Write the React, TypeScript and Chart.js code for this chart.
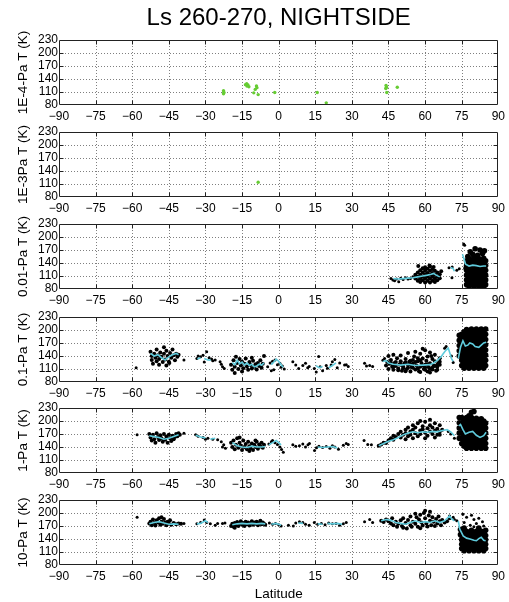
import React, { useEffect, useRef } from "react";
import { Chart, registerables } from "chart.js";

Chart.register(...registerables);

type P = [number, number];

const latTicks = [-90, -75, -60, -45, -30, -15, 0, 15, 30, 45, 60, 75, 90];
const tempTicks = [80, 110, 140, 170, 200, 230];
const panelLabels = ["1E-4-Pa T (K)", "1E-3Pa T (K)", "0.01-Pa T (K)", "0.1-Pa T (K)", "1-Pa T (K)", "10-Pa T (K)"];
const chartTitle = "Ls 260-270, NIGHTSIDE";
const xAxisTitle = "Latitude";

// ---- 1E-4 Pa (green) ----
const green1E4: P[] = [
  [-22.6, 113], [-22.4, 109], [-22.6, 106], [-13.6, 127], [-13.1, 129], [-12.6, 126], [-12.2, 122],
  [-13, 124], [-9.1, 124], [-8.9, 120], [-9.6, 116], [-10.2, 108], [-8.4, 104], [-1.6, 109],
  [15.8, 109], [19.5, 85], [44, 125], [44.2, 121], [43.9, 118], [44.3, 109], [48.6, 121],
];

// ---- 1E-3 Pa (green) ----
const green1E3: P[] = [[-8.4, 114]];

// ---- 0.01 Pa ----
const dots001: P[] = [
  [46, 104], [46.8, 101], [47.5, 99], [48.3, 103], [49.2, 97], [50, 105], [51, 102], [52, 106],
  [53, 103], [54, 104], [55, 108], [56, 110], [69.8, 129], [71.1, 131], [71, 106], [73, 123],
  [74, 127], [75.8, 184], [76.2, 181],
];
const dense001: P[] = [
  [56, 104], [56, 113], [57, 99], [57, 108], [57, 118], [58, 96], [58, 104], [58, 113], [58, 123],
  [59, 100], [59, 109], [59, 118], [59, 128], [60, 95], [60, 104], [60, 113], [60, 122], [61, 99],
  [61, 108], [61, 117], [61, 127], [62, 95], [62, 104], [62, 113], [62, 122], [62, 132], [63, 99],
  [63, 108], [63, 117], [63, 126], [64, 96], [64, 104], [64, 113], [64, 122], [65, 100], [65, 109],
  [65, 118], [66, 105], [66, 114], [57.2, 133], [61.8, 134], [60, 130], [63.5, 131], [66.6, 121],
];
const block001: P[] = [
  [77, 90], [77, 101], [77, 112], [77, 123], [77, 134], [77, 145],
  [78, 86], [78, 96], [78, 107], [78, 118], [78, 129], [78, 140], [78, 150],
  [79, 91], [79, 102], [79, 113], [79, 124], [79, 135], [79, 146],
  [80, 85], [80, 97], [80, 108], [80, 119], [80, 130], [80, 141], [80, 152],
  [81, 90], [81, 101], [81, 112], [81, 123], [81, 134], [81, 145],
  [82, 86], [82, 96], [82, 107], [82, 118], [82, 129], [82, 140], [82, 150],
  [83, 91], [83, 102], [83, 113], [83, 124], [83, 135], [83, 146],
  [84, 85], [84, 97], [84, 108], [84, 119], [84, 130], [84, 141], [84, 151],
  [84.8, 90], [84.8, 101], [84.8, 112], [84.8, 123], [84.8, 134], [84.8, 145],
  [77.5, 155], [79.5, 160], [81.5, 158], [83.5, 162], [78.5, 166], [82.5, 170], [80.5, 173], [84.3, 168], [76.8, 128],
];
const mean001: P[][] = [
  [[47, 104], [49, 103], [51, 104], [53, 105], [55, 106], [57, 108], [59, 110], [61, 112], [62.5, 114], [63.5, 116], [64.5, 112], [66, 108]],
  [[70.5, 130], [71.5, 127], [72, 121]],
  [[75.3, 160], [75.8, 152], [76.6, 137], [78, 133], [79.5, 135], [81, 134], [82.5, 132], [84, 133], [85, 133]],
];

// ---- 0.1 Pa ----
const dots01: P[] = [
  [-58.4, 113], [-38.8, 131], [-33.5, 134], [-33, 140], [-32, 138], [-31, 142], [-30.5, 126], [-29.5, 150],
  [-28.5, 136], [-27.5, 133], [-27, 129], [-26, 131], [-24, 127], [-23.5, 121], [-23, 115], [-22.3, 111],
  [-4.5, 115], [-3.5, 124], [-2.5, 128], [-2, 108], [-1.5, 131], [-0.5, 120], [0.5, 123], [1, 114],
  [1.5, 117], [2.3, 110], [-3, 106], [5.8, 127], [7, 119], [8.2, 111], [9.9, 118], [11, 123], [11.9, 113],
  [12.5, 116], [14.6, 111], [15.4, 103], [16.4, 139], [17, 115], [18, 106], [19.5, 118], [20, 112],
  [21.5, 119], [22, 127], [23, 132], [24, 113], [25, 124], [27, 119], [27.7, 120], [28.5, 116],
  [35.2, 123], [36, 117], [37.3, 118], [38.5, 116], [42.7, 130], [43.4, 134], [68, 158], [68.6, 162],
  [70.8, 140], [71.5, 125],
];
const dense01: P[] = [
  [-52.5, 150], [-52, 140], [-52, 131], [-51.5, 122], [-51, 145], [-50.5, 136], [-50, 128], [-50, 155],
  [-49.5, 142], [-49, 133], [-49, 120], [-48.5, 148], [-48, 138], [-47.5, 126], [-47, 145], [-46.5, 132],
  [-46, 118], [-46, 152], [-45.5, 140], [-45, 127], [-44.5, 147], [-44, 136], [-43.5, 155], [-43, 142],
  [-42.5, 130], [-42, 145], [-41.5, 138], [-41, 143], [-47, 160], [-44.8, 124],
  [-19.5, 120], [-19, 108], [-18.5, 130], [-18, 115], [-17.5, 138], [-17, 124], [-16.5, 110], [-16, 133],
  [-15.5, 118], [-15, 127], [-14.5, 112], [-14, 122], [-13.5, 134], [-13, 116], [-12.5, 108], [-12, 126],
  [-11.5, 119], [-11, 111], [-10.5, 129], [-10, 115], [-9.5, 121], [-9, 109], [-8.5, 124], [-8, 117],
  [-7.5, 130], [-7, 113], [-6.5, 122], [-6, 140], [-15, 104], [-11, 136], [-18, 101],
  [44, 118], [44.5, 126], [45, 110], [45.5, 122], [46, 131], [46.5, 115], [47, 108], [47.5, 124],
  [48, 117], [48.5, 135], [49, 111], [49.5, 121], [50, 128], [50.5, 106], [51, 116], [51.5, 123],
  [52, 133], [52.5, 110], [53, 119], [53.5, 127], [54, 104], [54.5, 114], [55, 122], [55.5, 139],
  [56, 109], [56.5, 118], [57, 128], [57.5, 105], [58, 115], [58.5, 124], [59, 134], [59.5, 110],
  [60, 120], [60.5, 129], [61, 104], [61.5, 114], [62, 123], [62.5, 140], [63, 109], [63.5, 118],
  [64, 128], [64.5, 106], [65, 115], [65.5, 124], [66, 135], [50, 141], [53, 147], [56, 150],
  [58, 145], [60, 153], [62, 148], [64, 143], [59, 157], [61, 139], [57, 135], [55, 131], [52, 105],
  [58, 103], [62, 102], [65, 108], [45, 140], [47, 143], [66, 120], [63, 133], [54, 129], [49, 107], [60, 108],
  [51, 112], [53, 113], [55, 113], [57, 112], [59, 118], [61, 121], [63, 113], [65, 120], [48, 126], [50, 120],
  [52, 125], [54, 121], [56, 126], [58, 130], [60, 114], [62, 110], [64, 117], [66, 127], [46, 124], [47, 116],
];
const block01: P[] = [
  [74, 140], [74, 152], [74, 164], [74, 176], [74, 188],
  [75, 118], [75, 130], [75, 142], [75, 154], [75, 166], [75, 178], [75, 190],
  [76, 112], [76, 124], [76, 136], [76, 148], [76, 160], [76, 172], [76, 184], [76, 196],
  [77, 118], [77, 130], [77, 142], [77, 154], [77, 166], [77, 178], [77, 190], [77, 201],
  [78, 112], [78, 124], [78, 136], [78, 148], [78, 160], [78, 172], [78, 184], [78, 196],
  [79, 118], [79, 130], [79, 142], [79, 154], [79, 166], [79, 178], [79, 190], [79, 202],
  [80, 112], [80, 124], [80, 136], [80, 148], [80, 160], [80, 172], [80, 184], [80, 196],
  [81, 118], [81, 130], [81, 142], [81, 154], [81, 166], [81, 178], [81, 190], [81, 202],
  [82, 112], [82, 124], [82, 136], [82, 148], [82, 160], [82, 172], [82, 184], [82, 196],
  [83, 118], [83, 130], [83, 142], [83, 154], [83, 166], [83, 178], [83, 190], [83, 202],
  [84, 112], [84, 124], [84, 136], [84, 148], [84, 160], [84, 172], [84, 184], [84, 196],
  [84.8, 118], [84.8, 130], [84.8, 142], [84.8, 154], [84.8, 166], [84.8, 178], [84.8, 190], [84.8, 202],
];
const mean01: P[][] = [
  [[-52.5, 146], [-51, 140], [-49.5, 143], [-48, 136], [-46.5, 131], [-45, 138], [-43.5, 143], [-42, 146], [-41, 143]],
  [[-33.3, 133], [-32, 136]],
  [[-30.5, 134], [-29, 131], [-27.8, 130]],
  [[-19, 125], [-18, 120], [-17, 130], [-16, 122], [-15, 126], [-14, 119], [-13, 124], [-12, 118], [-11, 121], [-10, 115], [-9, 117], [-8, 121], [-7, 119], [-6, 124]],
  [[-3, 120], [-2, 126], [-1, 133], [0, 128], [1, 120], [1.8, 114]],
  [[15.3, 118], [16.5, 113], [18, 116]],
  [[20.5, 113], [22, 118], [23.5, 124]],
  [[42.7, 127], [44, 130], [45, 124], [47, 121], [50, 119], [53, 121], [56, 118], [59, 119], [62, 120], [63.5, 124], [65, 130], [66.5, 138], [67.4, 145], [68.5, 153], [69.5, 158], [70.2, 146], [70.8, 134], [71.5, 128]],
  [[73.6, 134], [74.5, 160], [75.5, 175], [76.5, 163], [77.5, 165], [78.3, 170], [79.5, 168], [80.5, 162], [82, 160], [83, 165], [84, 170], [85, 172]],
];

// ---- 1 Pa ----
const dots1: P[] = [
  [-58, 168], [-38.8, 172], [-34, 168], [-33, 165], [-31, 162], [-30, 158], [-29, 160], [-27, 158],
  [-25, 157], [-23.5, 152], [-22.5, 145], [-21.8, 137], [-23, 140],
  [-4, 147], [-3, 152], [-2.5, 155], [-1.5, 150], [-0.5, 146], [0.5, 140], [1.2, 134], [1.9, 128],
  [5.8, 145], [7, 142], [8.5, 143], [9.9, 147], [11, 140], [12, 145], [12.6, 148], [14.7, 132],
  [15.5, 138], [16.5, 142], [18, 139], [19.5, 141], [21, 137], [22, 143], [23, 140], [24.5, 135],
  [26.5, 144], [27.7, 148], [28.5, 146], [35, 155], [36.5, 146], [38, 145], [69.5, 176], [70.5, 170], [72, 160],
];
const dense1: P[] = [
  [-53, 170], [-52.5, 162], [-52, 155], [-51.5, 168], [-51, 158], [-50.5, 150], [-50, 172], [-49.5, 163],
  [-49, 156], [-48.5, 167], [-48, 160], [-47.5, 152], [-47, 170], [-46.5, 157], [-46, 164], [-45.5, 150],
  [-45, 168], [-44.5, 160], [-44, 154], [-43.5, 166], [-43, 158], [-42.5, 163], [-42, 170], [-41.5, 165],
  [-41, 172], [-40.5, 168],
  [-19.5, 150], [-19, 140], [-18.5, 155], [-18, 135], [-17.5, 145], [-17, 160], [-16.5, 138], [-16, 150],
  [-15.5, 143], [-15, 133], [-14.5, 155], [-14, 140], [-13.5, 147], [-13, 135], [-12.5, 152], [-12, 142],
  [-11.5, 137], [-11, 148], [-10.5, 133], [-10, 145], [-9.5, 140], [-9, 152], [-8.5, 136], [-8, 146],
  [-7.5, 141], [-7, 150], [-6.5, 138], [-6, 145], [-12, 131], [-16, 162], [-9.5, 155],
  [41, 143], [42, 146], [43, 150], [44, 149], [45, 155], [46, 160], [47, 157], [47, 166], [48, 163],
  [49, 170], [50, 162], [50, 175], [51, 168], [52, 180], [52, 172], [53, 165], [53, 185], [54, 176],
  [54, 168], [55, 190], [55, 180], [56, 172], [56, 185], [57, 165], [57, 195], [58, 178], [58, 170],
  [59, 188], [59, 181], [60, 173], [60, 198], [61, 166], [61, 183], [62, 176], [62, 190], [63, 170],
  [63, 185], [64, 178], [64, 195], [65, 168], [65, 182], [66, 175], [66, 190], [67, 180], [55, 160],
  [60, 160], [64, 162], [58, 200], [62, 203], [66, 168], [52, 158],
];
const block1: P[] = [
  [74, 160], [74, 172], [74, 184], [74, 196], [74, 208],
  [75, 148], [75, 160], [75, 172], [75, 184], [75, 196], [75, 208],
  [76, 142], [76, 154], [76, 166], [76, 178], [76, 190], [76, 202],
  [77, 137], [77, 148], [77, 160], [77, 172], [77, 184], [77, 196], [77, 208],
  [78, 142], [78, 154], [78, 166], [78, 178], [78, 190], [78, 202], [78, 212],
  [79, 137], [79, 148], [79, 160], [79, 172], [79, 184], [79, 196], [79, 208], [79, 220],
  [80, 142], [80, 154], [80, 166], [80, 178], [80, 190], [80, 202], [80, 222],
  [81, 137], [81, 148], [81, 160], [81, 172], [81, 184], [81, 196], [81, 206],
  [82, 142], [82, 154], [82, 166], [82, 178], [82, 190], [82, 202],
  [83, 137], [83, 148], [83, 160], [83, 172], [83, 184], [83, 196], [83, 205],
  [84, 142], [84, 154], [84, 166], [84, 178], [84, 190], [84, 200],
  [84.8, 137], [84.8, 148], [84.8, 160], [84.8, 172], [84.8, 184], [84.8, 195],
];
const mean1: P[][] = [
  [[-53, 166], [-51, 164], [-49, 162], [-47, 158], [-45, 160], [-43, 164], [-41, 168]],
  [[-34, 167], [-32, 163], [-30, 161]],
  [[-28, 158], [-26, 160]],
  [[-19, 150], [-17, 143], [-15, 140], [-13, 139], [-11, 142], [-9, 140], [-7, 140], [-5.5, 141]],
  [[-4, 145], [-2.5, 150], [-1, 155], [0, 150], [1, 145]],
  [[16, 140], [18, 139], [20, 140], [22, 141], [24, 138]],
  [[41, 143], [43, 148], [45, 153], [47, 157], [49, 162], [51, 168], [53, 172], [55, 175], [57, 173], [59, 175], [61, 174], [63, 176], [65, 175], [67, 178], [69, 180], [70.5, 175], [72, 166]],
  [[73.8, 189], [74.5, 192], [75.5, 180], [76.5, 170], [78, 174], [79.5, 176], [81, 167], [82.5, 162], [84, 166], [85, 174]],
];

// ---- 10 Pa ----
const dots10: P[] = [
  [-58, 190], [-38.8, 176], [-33.5, 175], [-32, 178], [-30.5, 184], [-29.5, 178], [-28, 175], [-26, 172],
  [-25, 176], [-23, 176], [-22, 177], [-3.8, 177], [-2.5, 174], [-1.3, 176], [0, 173], [1, 170], [4, 172],
  [6, 170], [7, 177], [8.5, 180], [9.9, 178], [11, 174], [12.5, 172], [14.6, 178], [16, 174], [17.5, 176],
  [19, 173], [20.5, 177], [22, 175], [23.5, 176], [25, 172], [26.5, 175], [27.7, 178], [35.2, 180],
  [37.3, 185], [38.5, 178], [70, 193], [71.5, 190], [72, 185], [73, 182],
  [75.5, 197], [77, 190], [79, 195], [80, 185], [82, 188], [83.5, 180], [76, 178], [78.5, 172], [81, 176], [84, 170], [80, 168],
];
const dense10: P[] = [
  [-53, 176], [-52.5, 180], [-52, 172], [-51.5, 185], [-51, 177], [-50.5, 171], [-50, 183], [-49.5, 178],
  [-49, 188], [-48.5, 173], [-48, 180], [-47.5, 175], [-47, 186], [-46.5, 178], [-46, 172], [-45.5, 180],
  [-45, 176], [-44.5, 183], [-44, 173], [-43, 177], [-42, 174], [-41, 176], [-40, 175], [-48, 190],
  [-19.5, 170], [-19, 175], [-18.5, 168], [-18, 177], [-17.5, 172], [-17, 179], [-16.5, 170], [-16, 175],
  [-15.5, 181], [-15, 173], [-14.5, 177], [-14, 170], [-13.5, 180], [-13, 174], [-12.5, 178], [-12, 171],
  [-11.5, 176], [-11, 181], [-10.5, 173], [-10, 178], [-9.5, 175], [-9, 180], [-8.5, 172], [-8, 177],
  [-7.5, 182], [-7, 174], [-6.5, 178], [-6, 175], [-5.5, 173], [-18, 166],
  [42, 182], [43, 179], [44, 185], [45, 181], [46, 176], [46.5, 188], [47, 172], [48, 180], [48.5, 168],
  [49, 175], [50, 183], [50.5, 170], [51, 166], [52, 177], [52.5, 164], [53, 184], [54, 172], [54.5, 168],
  [55, 180], [56, 175], [56.5, 190], [57, 168], [57.5, 185], [58, 196], [58.5, 178], [59, 171], [59.5, 200],
  [60, 188], [60.5, 176], [61, 169], [61.5, 194], [62, 182], [62.5, 172], [63, 190], [63.5, 180], [64, 170],
  [64.5, 186], [65, 176], [65.5, 192], [66, 181], [66.5, 172], [67, 184], [68, 178], [69, 181], [70, 188],
  [60, 205], [62, 203], [56, 198], [58, 165], [54, 192], [51, 188],
];
const block10: P[] = [
  [74.5, 150], [74.5, 162],
  [75, 118], [75, 128], [75, 138], [75, 148],
  [76, 113], [76, 123], [76, 133], [76, 143], [76, 153], [76, 165],
  [77, 118], [77, 128], [77, 138], [77, 148], [77, 158],
  [78, 113], [78, 123], [78, 133], [78, 143], [78, 153],
  [79, 118], [79, 128], [79, 138], [79, 148], [79, 160],
  [80, 113], [80, 123], [80, 133], [80, 143], [80, 153],
  [81, 118], [81, 128], [81, 138], [81, 148], [81, 158],
  [82, 113], [82, 123], [82, 133], [82, 143], [82, 153], [82, 165],
  [83, 118], [83, 128], [83, 138], [83, 148], [83, 158],
  [84, 113], [84, 123], [84, 133], [84, 143], [84, 153],
  [84.8, 118], [84.8, 128], [84.8, 138], [84.8, 148], [84.8, 160],
];
const mean10: P[][] = [
  [[-53, 175], [-51, 178], [-49, 180], [-47, 177], [-45, 174], [-43, 175], [-41, 174]],
  [[-33.5, 175], [-32, 176], [-30, 182], [-29, 178]],
  [[-19, 173], [-17, 175], [-15, 176], [-13, 175], [-11, 176], [-9, 175], [-7, 176], [-5.5, 175]],
  [[-3, 174], [-1, 176], [1, 172]],
  [[8, 177], [10, 176]],
  [[16, 175], [18, 174]],
  [[20, 176], [22, 175], [24, 176], [26, 174]],
  [[42, 182], [44, 185], [46, 183], [48, 178], [50, 176], [52, 174], [54, 178], [56, 182], [58, 178], [60, 180], [62, 178], [64, 182], [66, 178], [68, 182], [70, 193], [71, 186], [72, 182]],
  [[73.6, 182], [74.2, 163], [75.6, 147], [77, 142], [78.4, 140], [80, 137], [81, 136], [82, 141], [83, 144], [84, 137], [84.8, 136]],
];

const GREEN = "#66cc33";
const CYAN = "#5fcbdc";
const FONT = "'Liberation Sans', Arial, Helvetica, sans-serif";

type Panel = {
  label: string;
  dots: P[];
  dotColor: string;
  dotR: number;
  dense: P[];
  block: P[];
  means: P[][];
};

const panels: Panel[] = [
  { label: panelLabels[0], dots: green1E4, dotColor: GREEN, dotR: 1.7, dense: [], block: [], means: [] },
  { label: panelLabels[1], dots: green1E3, dotColor: GREEN, dotR: 1.7, dense: [], block: [], means: [] },
  { label: panelLabels[2], dots: dots001, dotColor: "#000", dotR: 1.5, dense: dense001, block: block001, means: mean001 },
  { label: panelLabels[3], dots: dots01, dotColor: "#000", dotR: 1.5, dense: dense01, block: block01, means: mean01 },
  { label: panelLabels[4], dots: dots1, dotColor: "#000", dotR: 1.5, dense: dense1, block: block1, means: mean1 },
  { label: panelLabels[5], dots: dots10, dotColor: "#000", dotR: 1.5, dense: dense10, block: block10, means: mean10 },
];

const panelTops = [40, 132, 224, 317, 408, 500];
const PLOT_H = 65;
const LEFT = 59;
const RIGHT_PAD = 10;
const W = 509;

const toXY = (arr: P[]) => arr.map(([x, y]) => ({ x, y }));
const minus = (v: number | string) => String(v).replace("-", "\u2212");

const framePlugin = {
  id: "matlabFrame",
  beforeDatasetsDraw(chart: any) {
    const { ctx, chartArea: a, scales } = chart;
    const x = scales.x, y = scales.y;
    ctx.save();
    ctx.strokeStyle = "rgba(0,0,0,0.5)";
    ctx.lineWidth = 1;
    ctx.setLineDash([1, 2]);
    ctx.beginPath();
    latTicks.slice(1, -1).forEach((v) => {
      const px = Math.round(x.getPixelForValue(v)) + 0.5;
      ctx.moveTo(px, a.top);
      ctx.lineTo(px, a.bottom);
    });
    tempTicks.slice(1, -1).forEach((v) => {
      const py = Math.round(y.getPixelForValue(v)) + 0.5;
      ctx.moveTo(a.left, py);
      ctx.lineTo(a.right, py);
    });
    ctx.stroke();
    ctx.restore();
  },
  afterDatasetsDraw(chart: any) {
    const { ctx, chartArea: a, scales } = chart;
    const x = scales.x, y = scales.y;
    const L = Math.round(a.left) + 0.5, R = Math.round(a.right) - 0.5;
    const T = Math.round(a.top) + 0.5, B = Math.round(a.bottom) - 0.5;
    ctx.save();
    ctx.strokeStyle = "#222";
    ctx.lineWidth = 1;
    ctx.setLineDash([]);
    ctx.beginPath();
    latTicks.slice(1, -1).forEach((v) => {
      const px = Math.round(x.getPixelForValue(v)) + 0.5;
      ctx.moveTo(px, B); ctx.lineTo(px, B - 4);
      ctx.moveTo(px, T); ctx.lineTo(px, T + 4);
    });
    tempTicks.slice(1, -1).forEach((v) => {
      const py = Math.round(y.getPixelForValue(v)) + 0.5;
      ctx.moveTo(L, py); ctx.lineTo(L + 4, py);
      ctx.moveTo(R, py); ctx.lineTo(R - 4, py);
    });
    ctx.rect(L, T, R - L, B - T);
    ctx.stroke();
    ctx.restore();
  },
};

function PanelChart({ panel, index }: { panel: Panel; index: number }) {
  const ref = useRef<HTMLCanvasElement | null>(null);
  const isFirst = index === 0;
  const isLast = index === panels.length - 1;
  const canvasTop = panelTops[index] - 40;
  const bottomH = isLast ? 602 - (panelTops[index] + PLOT_H) : 22;
  const canvasH = 40 + PLOT_H + bottomH;

  useEffect(() => {
    if (!ref.current) return;
    const datasets: any[] = [];
    panel.means.forEach((seg) => datasets.push({
      data: toXY(seg), showLine: true, pointRadius: 0, borderColor: CYAN,
      borderWidth: 1.6, tension: 0, fill: false, order: 0,
    }));
    datasets.push({
      data: toXY(panel.dots), pointRadius: panel.dotR, pointBorderWidth: 0,
      pointBackgroundColor: panel.dotColor, showLine: false, order: 1,
    });
    if (panel.dense.length) datasets.push({
      data: toXY(panel.dense), pointRadius: 2.0, pointBorderWidth: 0,
      pointBackgroundColor: "#000", showLine: false, order: 2,
    });
    if (panel.block.length) datasets.push({
      data: toXY(panel.block), pointRadius: 2.8, pointBorderWidth: 0,
      pointBackgroundColor: "#000", showLine: false, order: 3,
    });

    const chart = new Chart(ref.current, {
      type: "scatter",
      data: { datasets },
      options: {
        responsive: false,
        animation: false,
        devicePixelRatio: 1,
        layout: { padding: { top: isFirst ? 0 : 40, left: 0, right: RIGHT_PAD, bottom: 0 } },
        plugins: {
          legend: { display: false },
          tooltip: { enabled: false },
          title: {
            display: isFirst,
            text: chartTitle,
            color: "#000",
            fullSize: false,
            font: { family: FONT, size: 24, weight: "normal" },
            padding: { top: 4, bottom: 7.2 },
          },
        },
        scales: {
          x: {
            type: "linear",
            min: -90,
            max: 90,
            afterBuildTicks: (s: any) => { s.ticks = latTicks.map((v) => ({ value: v })); },
            afterFit: (s: any) => { s.height = bottomH; },
            grid: { display: false, drawTicks: false },
            border: { display: false },
            ticks: {
              color: "#000", padding: 4, maxRotation: 0, autoSkip: false,
              font: { family: FONT, size: 12 },
              callback: (v: any) => minus(v),
            },
            title: {
              display: isLast, text: xAxisTitle, color: "#000",
              font: { family: FONT, size: 13.5 }, padding: { top: 0, bottom: 0 },
            },
          },
          y: {
            type: "linear",
            min: 80,
            max: 230,
            afterBuildTicks: (s: any) => { s.ticks = tempTicks.map((v) => ({ value: v })); },
            afterFit: (s: any) => { s.width = LEFT; },
            grid: { display: false, drawTicks: false },
            border: { display: false },
            ticks: {
              color: "#000", padding: 1, autoSkip: false,
              font: { family: FONT, size: 12 },
              callback: (v: any) => minus(v),
            },
            title: {
              display: true, text: panel.label, color: "#000",
              font: { family: FONT, size: 13.5 }, padding: { top: 15, bottom: 0 },
            },
          },
        },
      },
      plugins: [framePlugin],
    } as any);
    return () => chart.destroy();
  }, [panel, index]);

  return (
    <canvas
      ref={ref}
      width={W}
      height={canvasH}
      style={{ position: "absolute", left: 0, top: canvasTop, width: W, height: canvasH }}
    />
  );
}

export default function App() {
  return (
    <div style={{ position: "absolute", left: 0, top: 0, width: W, height: 602, background: "#fff", overflow: "hidden" }}>
      {panels.map((p, i) => (
        <PanelChart key={i} panel={p} index={i} />
      ))}
    </div>
  );
}
